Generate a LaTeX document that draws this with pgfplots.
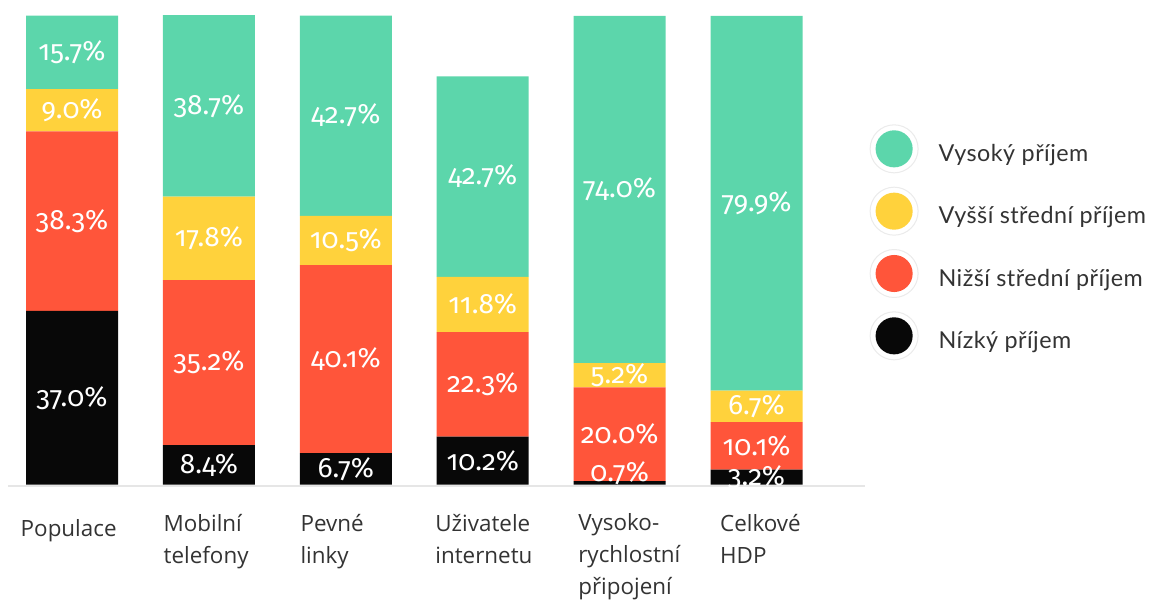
\documentclass[border=0pt]{standalone}
\usepackage{pgfplots}
\pgfplotsset{compat=1.18}
\usepackage{fontspec}
\setmainfont{Open Sans}
\newfontfamily\legfont{Lato}[LetterSpace=2]
\newfontfamily\valfont{Fira Sans}[Numbers=OldStyle]

\definecolor{cHigh}{HTML}{5CD6AB}
\definecolor{cUpper}{HTML}{FFD23C}
\definecolor{cLower}{HTML}{FF553A}
\definecolor{cLow}{HTML}{080808}
\definecolor{txt}{HTML}{333333}
\definecolor{baseln}{HTML}{E6E6E6}
\definecolor{ring}{HTML}{EBEBEB}

\begin{document}
\begin{tikzpicture}
\begin{axis}[
  x=102.675pt, y=3.5175pt,
  xmin=-0.4675, xmax=5.793, ymin=-0.4, ymax=103.3,
  ybar stacked, bar width=69pt,
  axis x line*=bottom, axis y line=none,
  x axis line style={draw=baseln, line width=1.5pt, -},
  xtick={-0.016,1.028,2.028,3.013,4.057,5.093}, major tick length=0pt, ytick=\empty,
  xticklabels={Populace, Mobilní\\telefony, Pevné\\linky, Uživatele\\internetu,
               Vysoko-\\rychlostní\\připojení, Celkové\\HDP},
  xticklabel style={anchor=north west, align=left, text=txt, inner sep=0pt,
                    font=\fontsize{16.8pt}{24pt}\selectfont,
                    execute at begin node=\strut,
                    xshift=-37pt, yshift=-20.4pt},
  clip=false,
  visualization depends on=rawy \as \rawy,
  nodes near coords={\pgfmathprintnumber[assume math mode=true,fixed,fixed zerofill,precision=1]{\rawy}\%},
  every node near coord/.append style={anchor=center, text=white, inner sep=0pt,
      font=\valfont\fontsize{21pt}{21pt}\selectfont,
      yshift={(\rawy<1)*7.5pt}},
  every axis plot post/.append style={
    legend image code/.code={
      \draw[draw=ring, fill=white, line width=0.75pt] (0pt,3.75pt) circle (18pt);
      \fill[##1, draw=none] (0pt,3.75pt) circle (13.9pt);
    }},
  legend style={at={(1.0050,0.7450)}, anchor=north west, draw=none, fill=none,
                inner sep=0pt, row sep=10pt, column sep=15pt,
                font=\legfont\fontsize{17.5pt}{17.5pt}\selectfont, text=txt,
                nodes={inner sep=0pt}},
  legend cell align=left,
  reverse legend,
]
% income groups, bottom to top
\addplot[fill=cLow, draw=none] coordinates {(0,37.0) (1,8.4) (2,6.7) (3,10.2) (4,0.7) (5,3.2)};
\addlegendentry{Nízký příjem}
\addplot[fill=cLower, draw=none] coordinates {(0,38.3) (1,35.2) (2,40.1) (3,22.3) (4,20.0) (5,10.1)};
\addlegendentry{Nižší střední příjem}
\addplot[fill=cUpper, draw=none] coordinates {(0,9.0) (1,17.8) (2,10.5) (3,11.8) (4,5.2) (5,6.7)};
\addlegendentry{Vyšší střední příjem}
\addplot[fill=cHigh, draw=none] coordinates {(0,15.7) (1,38.7) (2,42.7) (3,42.7) (4,74.0) (5,79.9)};
\addlegendentry{Vysoký příjem}
\end{axis}
\pgfresetboundingbox
\path[use as bounding box] (-6pt,-88.2pt) rectangle (858.75pt,364.8pt);
\end{tikzpicture}
\end{document}
